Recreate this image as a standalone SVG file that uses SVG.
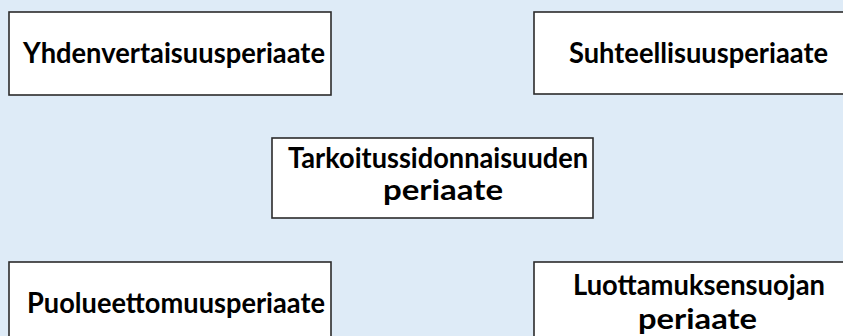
<svg xmlns="http://www.w3.org/2000/svg" width="843" height="336" viewBox="0 0 843 336">
  <style>
    .box { fill: #ffffff; stroke: #2b2b2b; stroke-width: 1.6; }
    .lbl { font-family: Lato, "Open Sans", "Liberation Sans", sans-serif; font-weight: 700; font-size: 28px; fill: #000000; text-anchor: middle; }
  </style>
  <rect x="0" y="0" width="843" height="336" fill="#deebf7"/>
  <g id="node-yhdenvertaisuus">
    <rect class="box" x="9" y="12" width="322" height="83"/>
    <text class="lbl" x="174" y="63" textLength="302" lengthAdjust="spacingAndGlyphs">Yhdenvertaisuusperiaate</text>
  </g>
  <g id="node-suhteellisuus">
    <rect class="box" x="534" y="12" width="330" height="82"/>
    <text class="lbl" x="698.5" y="63" textLength="259" lengthAdjust="spacingAndGlyphs">Suhteellisuusperiaate</text>
  </g>
  <g id="node-tarkoitussidonnaisuus">
    <rect class="box" x="272" y="138" width="321" height="80"/>
    <text class="lbl" x="438" y="168" textLength="300" lengthAdjust="spacingAndGlyphs">Tarkoitussidonnaisuuden</text>
    <text class="lbl" x="443" y="200" textLength="120" lengthAdjust="spacingAndGlyphs">periaate</text>
  </g>
  <g id="node-puolueettomuus">
    <rect class="box" x="9" y="262" width="322" height="100"/>
    <text class="lbl" x="176" y="313" textLength="298" lengthAdjust="spacingAndGlyphs">Puolueettomuusperiaate</text>
  </g>
  <g id="node-luottamuksensuoja">
    <rect class="box" x="534" y="262" width="330" height="100"/>
    <text class="lbl" x="699" y="295" textLength="252" lengthAdjust="spacingAndGlyphs">Luottamuksensuojan</text>
    <text class="lbl" x="697.5" y="329" textLength="119" lengthAdjust="spacingAndGlyphs">periaate</text>
  </g>
  <g id="connectors"></g>
</svg>
